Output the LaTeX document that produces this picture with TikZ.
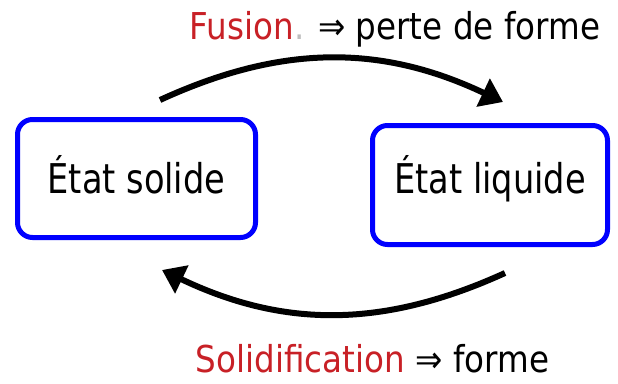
\documentclass[tikz,border=0pt]{standalone}
\usepackage{fontspec}
\setmainfont{DejaVu Sans}[FakeStretch=0.88]
\newfontfamily\boxfont{DejaVu Sans}[FakeStretch=0.82]
\usetikzlibrary{arrows.meta}

\definecolor{fusred}{RGB}{200,32,38}
\definecolor{dotgray}{RGB}{190,190,190}
\definecolor{boxblue}{RGB}{0,0,255}

\begin{document}
\begin{tikzpicture}[x=1pt,y=1pt,
    etat/.style={draw=boxblue, line width=5pt, rounded corners=15pt,
        inner sep=0pt, font=\boxfont\fontsize{41}{41}\selectfont,
        text height=30pt, text depth=0pt},
    legende/.style={inner sep=0pt, anchor=base, font=\fontsize{37}{37}\selectfont},
    fleche/.style={line width=6pt, -{Triangle[length=22pt,width=30pt]}}]

        \useasboundingbox (0,0) rectangle (618,-383);

        % les deux etats
        \node[etat, minimum width=238pt, minimum height=118pt] (solide) at (136.5,-178.5) {État solide};
        \node[etat, minimum width=235pt, minimum height=119pt, text height=16pt] (liquide) at (490,-185) {État liquide};

        % extremites des fleches
        \coordinate (fus0) at (160,-100);
        \coordinate (fus1) at (503,-102);
        \coordinate (sol0) at (505,-273);
        \coordinate (sol1) at (162,-270);

        \draw[fleche] (fus0) to[bend left=25] (fus1);
        \draw[fleche] (sol0) to[bend left=25] (sol1);

        \node[legende] (fusion) at (395,-39) {{\color{fusred}Fusion}{\color{dotgray}.} ⇒ perte de forme};
        \node[legende] (solidif) at (372.5,-372) {{\color{fusred}Solidification} ⇒ forme};

    \end{tikzpicture}
\end{document}
